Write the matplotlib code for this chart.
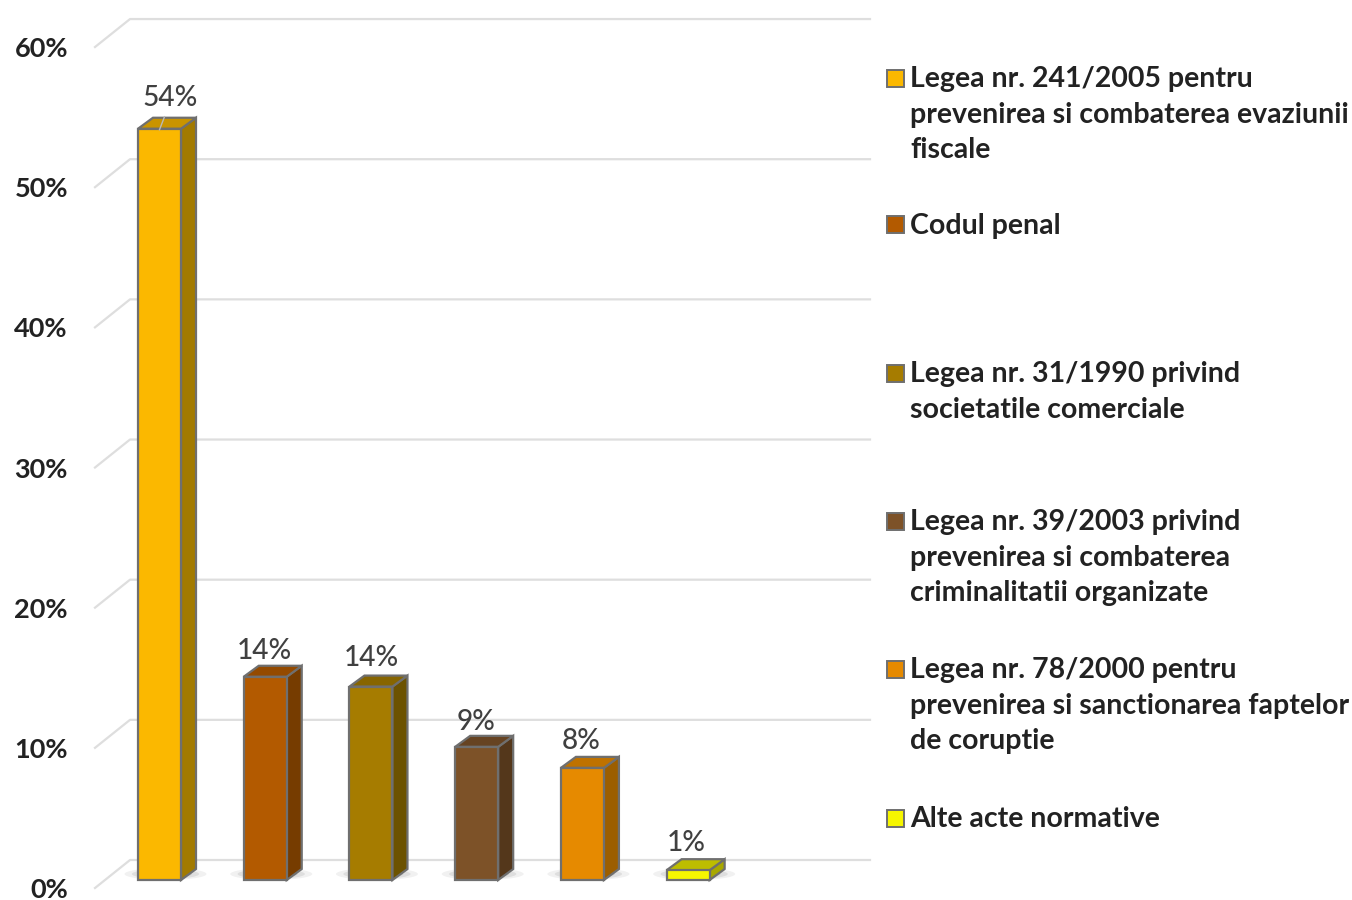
"""Legal acts bar chart, fake 3D bars drawn on a plain axes."""
import matplotlib
matplotlib.use('Agg')
import matplotlib.pyplot as plt
from matplotlib.patches import Polygon, Ellipse, Rectangle

categories = ['Legea nr. 241/2005 pentru\nprevenirea si combaterea evaziunii\nfiscale',
              'Codul penal',
              'Legea nr. 31/1990 privind\nsocietatile comerciale',
              'Legea nr. 39/2003 privind\nprevenirea si combaterea\ncriminalitatii organizate',
              'Legea nr. 78/2000 pentru\nprevenirea si sanctionarea faptelor\nde coruptie',
              'Alte acte normative']
values = [53.6, 14.5, 13.8, 9.5, 8.0, 0.7]
value_labels = ['54%', '14%', '14%', '9%', '8%', '1%']
y_ticks = [0, 10, 20, 30, 40, 50, 60]
y_tick_labels = ['0%', '10%', '20%', '30%', '40%', '50%', '60%']

front = ['#FBB800', '#B35A00', '#A67C00', '#7D5228', '#E68A00', '#F6F600']
side = ['#A27A00', '#763C00', '#6C5200', '#54371B', '#9C5E00', '#A8A800']
top = ['#C99400', '#944A00', '#876500', '#664322', '#BF7200', '#BDBD00']
edge = '#6F6F6F'

W, H = 1352, 900
FS = 20.2
plt.rcParams['font.family'] = ['Lato', 'DejaVu Sans']

fig = plt.figure(figsize=(W / 100, H / 100), dpi=100)
# 0% sits at y=888 px, 60% at y=47 px
ax = fig.add_axes([95 / W, 12 / H, 775 / W, 869 / H])
ax.set_xlim(-0.61, 6.72)
ax.set_ylim(0, 62)
for s in ax.spines.values():
    s.set_visible(False)

px_x = 105.7      # pixels per category
px_y = 14.02      # pixels per percent
def ox(p): return p / px_x
def oy(p): return p / px_y

base = oy(8)      # bars stand a little behind the front edge
bw = ox(43)
dx, dy = ox(15), oy(11)

# floor + wall gridlines
for v in y_ticks:
    ax.plot([-0.61, -0.61 + ox(35), 6.72], [v, v + oy(28), v + oy(28)],
            color='#DEDEDE', lw=1.6, zorder=1, clip_on=False)

for i, v in enumerate(values):
    x0, x1 = i - bw / 2, i + bw / 2
    y1 = base + v
    # soft shadow on the floor
    for k, a in zip([1.0, 0.82, 0.64, 0.46], [0.08, 0.12, 0.16, 0.2]):
        ax.add_patch(Ellipse((i + ox(6), base + oy(6)), ox(82) * k, oy(12) * k,
                             color='#555555', alpha=a, lw=0, zorder=2))
    ax.bar(i, v, width=bw, bottom=base, color=front[i], edgecolor=edge, lw=1.6, zorder=4)
    ax.add_patch(Polygon([(x1, base), (x1 + dx, base + dy), (x1 + dx, y1 + dy), (x1, y1)],
                         facecolor=side[i], edgecolor=edge, lw=1.6, zorder=3))
    ax.add_patch(Polygon([(x0, y1), (x0 + dx, y1 + dy), (x1 + dx, y1 + dy), (x1, y1)],
                         facecolor=top[i], edgecolor=edge, lw=1.6, zorder=3))

# value labels, gaps above the bar tops
label_gap = [31, 26, 29, 25, 27, 27]
label_shift = [11, -1, 0, -1, -1, -2]
for i, v in enumerate(values):
    ax.text(i + ox(label_shift[i]), base + v + oy(label_gap[i]), value_labels[i], ha='center', va='center',
            fontsize=FS, fontweight='medium', color='#404040', zorder=6)
# leader line of the first label
ax.plot([ox(0), ox(5)], [base + values[0] - oy(1), base + values[0] + oy(12)],
        color='#B9B9B9', lw=1, zorder=5)

ax.set_xticks([])
ax.set_yticks(y_ticks)
ax.set_yticklabels(y_tick_labels, fontsize=FS - 0.7, fontweight='bold', color='#222222')
ax.tick_params(axis='y', length=0, pad=19.5)

# legend by hand, the rows are unevenly spaced in the original
legend_y = [78, 225, 373, 521, 669, 818]
for name, c, ly in zip(categories, front, legend_y):
    fig.add_artist(Rectangle((887 / W, 1 - (ly + 8.5) / H), 17 / W, 17 / H, transform=fig.transFigure,
                             facecolor=c, edgecolor=edge, lw=1.4))
    for j, line in enumerate(name.split('\n')):
        fig.text(910 / W, 1 - (ly + 1 + j * 35.7) / H, line, ha='left', va='center',
                 fontsize=FS + 0.3, fontweight='bold', color='#222222')

fig.savefig('out.png', dpi=100, facecolor='white')
